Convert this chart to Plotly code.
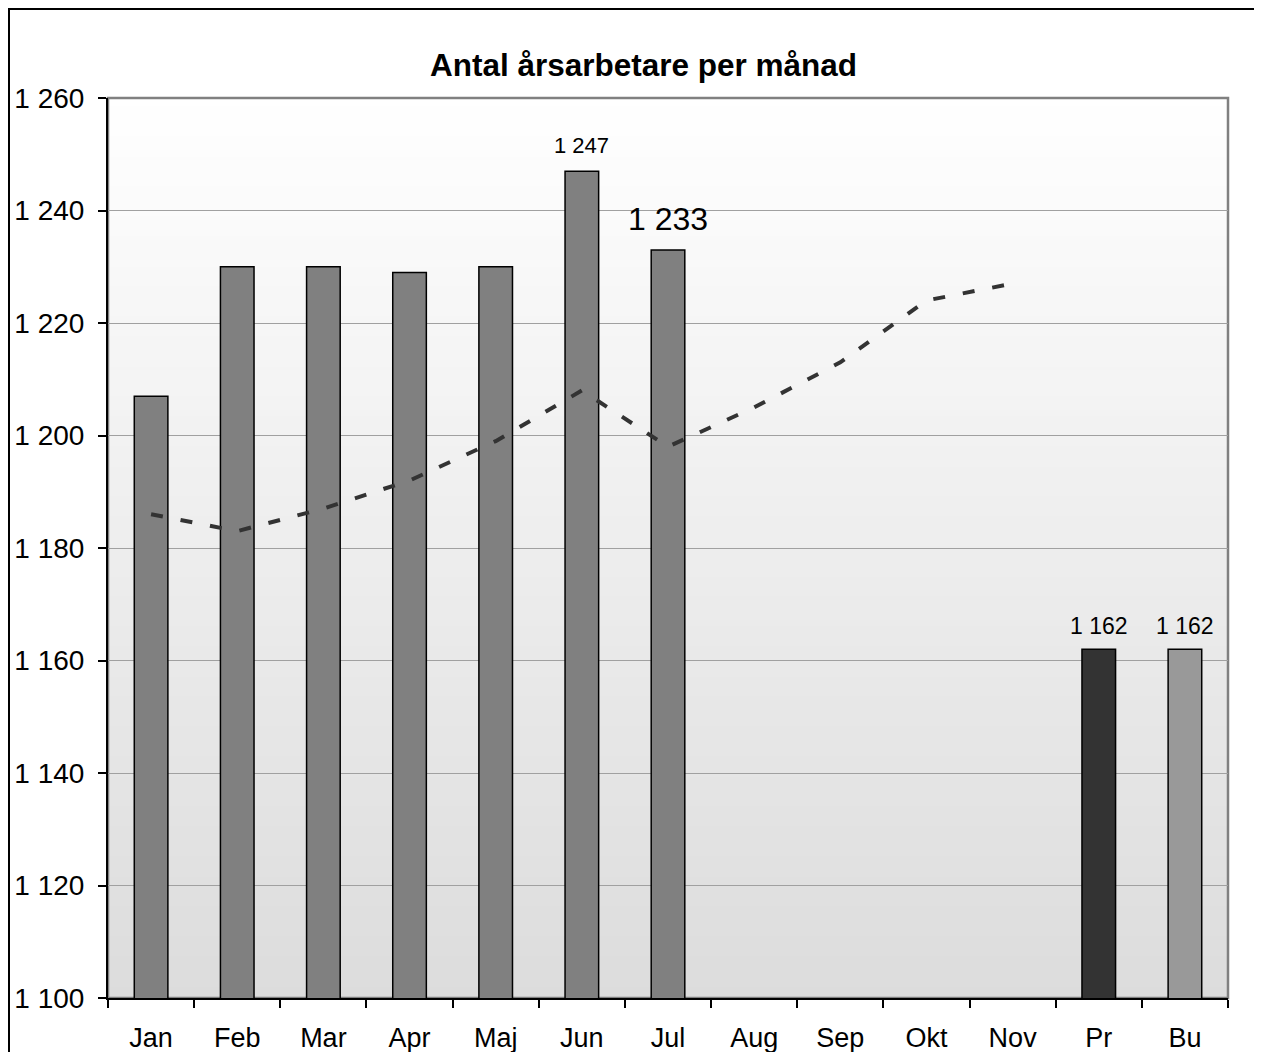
import plotly.graph_objects as go

categories = ["Jan", "Feb", "Mar", "Apr", "Maj", "Jun", "Jul", "Aug", "Sep", "Okt", "Nov", "Pr", "Bu"]
bar_values = [1207, 1230, 1230, 1229, 1230, 1247, 1233, None, None, None, None, 1162, 1162]
bar_colors = ["#808080"] * 11 + ["#333333", "#999999"]
line_values = [1186, 1183, 1187, 1192, 1199, 1208, 1198, 1205, 1213, 1224, 1227, None, None]
label_cats = ["Jun", "Jul", "Pr", "Bu"]
label_vals = [1247, 1233, 1162, 1162]
label_sizes = [22, 32, 23, 23]
label_shift = [11, 11, 8, 8]
y_ticks = [1100, 1120, 1140, 1160, 1180, 1200, 1220, 1240, 1260]

# page has an 8px body margin; figure is sized to fit the 1262x1052 window
W, H = 1254, 1044
L, R, T, B = 100, 34, 90, 54
FONT = "Arial, 'Liberation Sans', sans-serif"

fig = go.Figure()
fig.add_trace(go.Bar(
    x=categories, y=bar_values, width=0.39,
    marker=dict(color=bar_colors, line=dict(color="black", width=1.5)),
    showlegend=False, hoverinfo="x+y",
))
fig.add_trace(go.Scatter(
    x=categories, y=line_values, mode="lines",
    line=dict(color="#333333", width=4, dash="12px,18px"),
    showlegend=False,
))

shapes = []
# gradient background of plot area
n = 90
for i in range(n):
    f = (i + 0.5) / n
    c = int(round(255 - (255 - 220) * f))
    shapes.append(dict(type="rect", xref="paper", yref="paper",
                       x0=0, x1=1, y0=1 - (i + 1) / n, y1=1 - i / n + 0.002,
                       fillcolor=f"rgb({c},{c},{c})", line=dict(width=0), layer="below"))
# plot-area border (grey top/right)
shapes.append(dict(type="rect", xref="paper", yref="paper", x0=0, x1=1, y0=0, y1=1,
                   line=dict(color="#808080", width=2.5), layer="below"))
# outer chart border
pw, ph = W - L - R, H - T - B
shapes.append(dict(type="rect", xref="paper", yref="paper",
                   x0=(1 - L) / pw, x1=(W - 2 - L) / pw,
                   y0=-0.2, y1=(H - B - 1) / ph,
                   line=dict(color="black", width=2), layer="above"))

annotations = []
for c, v, s, sh in zip(label_cats, label_vals, label_sizes, label_shift):
    annotations.append(dict(x=c, y=v, xref="x", yref="y", text=f"{v:,}".replace(",", " "),
                            showarrow=False, yanchor="bottom", yshift=sh,
                            font=dict(size=s, color="black", family=FONT)))

fig.update_layout(
    width=W, height=H,
    margin=dict(l=L, r=R, t=T, b=B, autoexpand=False),
    paper_bgcolor="white", plot_bgcolor="rgba(0,0,0,0)",
    separators=", ",
    font=dict(family=FONT, color="black"),
    title=dict(text="<b>Antal årsarbetare per månad</b>", x=(643.5 - 8) / W, xref="container",
               xanchor="center", y=1 - (65 - 8) / H, yref="container", yanchor="middle",
               font=dict(size=31.5, family=FONT, color="black")),
    shapes=shapes, annotations=annotations,
    bargap=0.61,
)
fig.update_xaxes(
    type="category", categoryorder="array", categoryarray=categories,
    showline=True, linecolor="black", linewidth=2,
    ticks="outside", tickson="boundaries", ticklen=8, tickcolor="black", tickwidth=2,
    ticklabelstandoff=15, automargin=False,
    showgrid=False, tickfont=dict(size=27, family=FONT, color="black"),
    range=[-0.5, len(categories) - 0.5], zeroline=False,
)
fig.update_yaxes(
    range=[1100, 1260], tickvals=y_ticks, tickformat=",d",
    showline=True, linecolor="black", linewidth=2,
    ticks="outside", ticklen=8, tickcolor="black", tickwidth=2,
    ticklabelstandoff=8, automargin=False,
    showgrid=True, gridcolor="#a0a0a0", gridwidth=1, zeroline=False,
    tickfont=dict(size=28, family=FONT, color="black"),
)
fig.write_html("out.html")
